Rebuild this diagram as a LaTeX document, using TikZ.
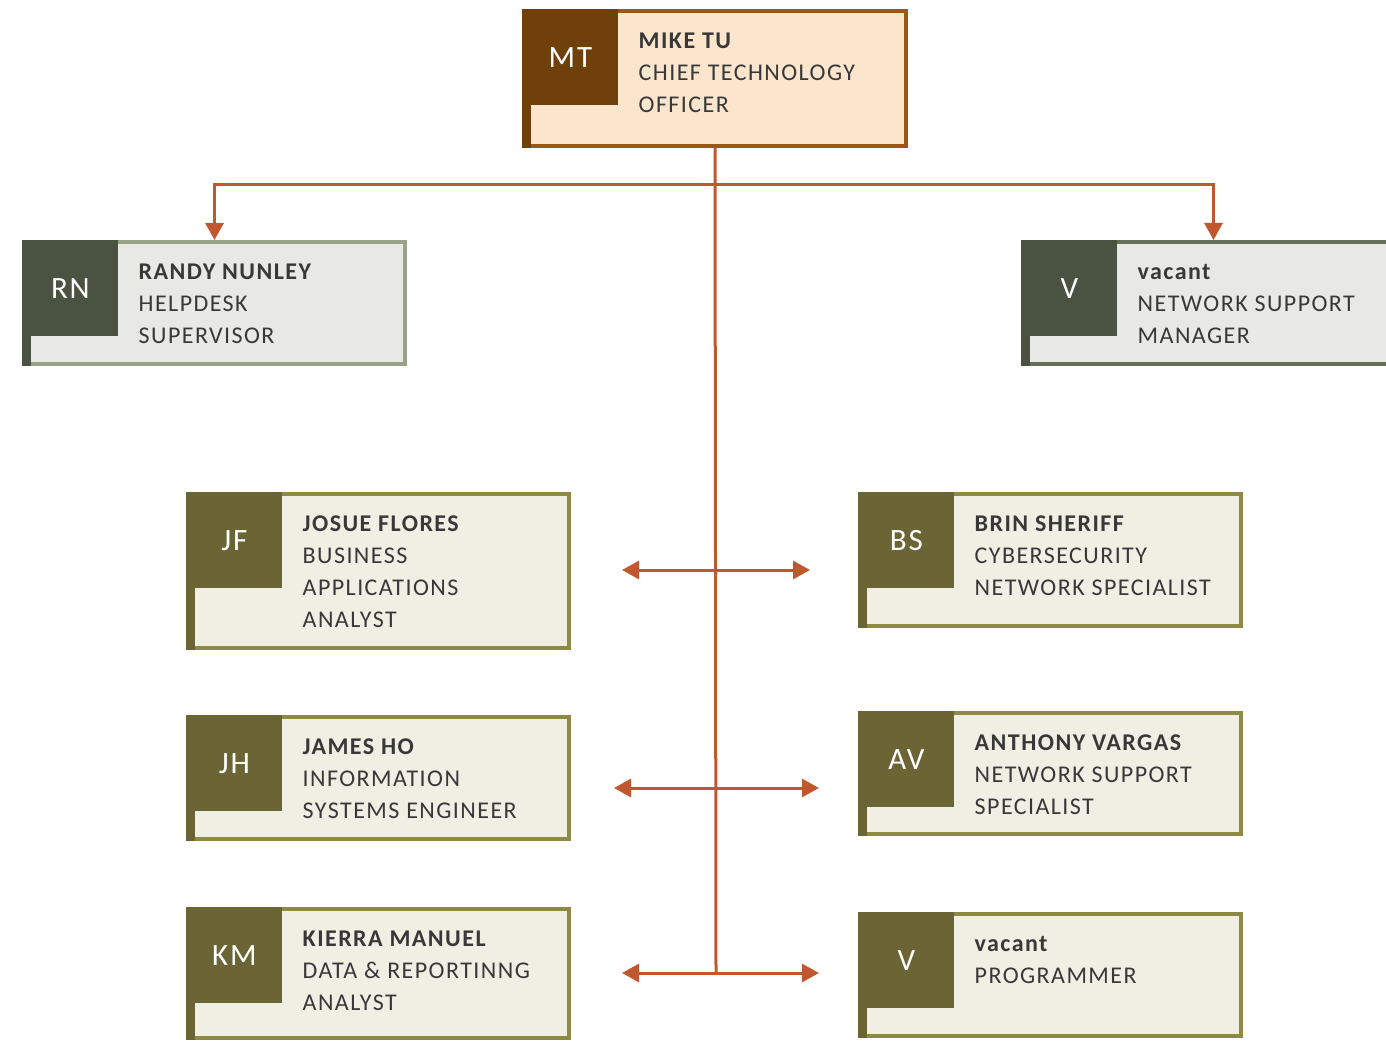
\documentclass[tikz,border=0pt]{standalone}
\usepackage{fontspec}
\setmainfont{Carlito}[LetterSpace=6]
\usetikzlibrary{positioning,arrows.meta}
\definecolor{mtline}{RGB}{155,88,18}
\definecolor{mttab}{RGB}{112,64,10}
\definecolor{mtfill}{RGB}{251,229,205}
\definecolor{sageline}{RGB}{151,162,137}
\definecolor{darkline}{RGB}{103,111,89}
\definecolor{greentab}{RGB}{74,82,65}
\definecolor{greyfill}{RGB}{232,233,228}
\definecolor{oliveline}{RGB}{143,137,70}
\definecolor{olivetab}{RGB}{107,101,54}
\definecolor{olivefill}{RGB}{240,239,228}
\definecolor{linkc}{RGB}{193,87,46}
\definecolor{txt}{RGB}{56,56,56}

\begin{document}
\begin{tikzpicture}[x=0.5pt,y=-0.5pt,
	card/.style={draw, line width=2pt, anchor=north west, inner sep=0pt},
	tab/.style={anchor=north west, minimum size=48pt, inner sep=0pt, text=white, font=\fontsize{15.5}{18}\selectfont},
	who/.style={anchor=base west, inner sep=0pt, text=txt, font=\fontsize{12}{16}\selectfont},
	brown card/.style={draw=mtline, fill=mtfill}, brown tab/.style={fill=mttab},
	sage card/.style={draw=sageline, fill=greyfill}, sage tab/.style={fill=greentab},
	dark card/.style={draw=darkline, fill=greyfill}, dark tab/.style={fill=greentab},
	olive card/.style={draw=oliveline, fill=olivefill}, olive tab/.style={fill=olivetab},
	link/.style={draw=linkc, line width=1.5pt},
	tip/.style={-{Triangle[length=8.5pt,width=9pt]}},
	tips/.style={{Triangle[length=8.5pt,width=9pt]}-{Triangle[length=8.5pt,width=9pt]}}]
	\clip (0,0) rectangle (1386,1043);
	% staff cards
	\foreach \nm/\x/\y/\bw/\bh/\sch/\ini/\txt in {
		mt/522/9/191/67.5/brown/MT/{\textbf{MIKE TU}\\CHIEF TECHNOLOGY\\OFFICER},
		rn/22/240/190.5/61/sage/RN/{\textbf{RANDY NUNLEY}\\HELPDESK\\SUPERVISOR},
		vm/1021/240/190.5/61/dark/V/{\textbf{vacant}\\NETWORK SUPPORT\\MANAGER},
		jf/186/492/190.5/77/olive/JF/{\textbf{JOSUE FLORES}\\BUSINESS\\APPLICATIONS\\ANALYST},
		bs/858/492/190.5/66/olive/BS/{\textbf{BRIN SHERIFF}\\CYBERSECURITY\\NETWORK SPECIALIST},
		jh/186/715/190.5/61/olive/JH/{\textbf{JAMES HO}\\INFORMATION\\SYSTEMS ENGINEER},
		av/858/711/190.5/60.5/olive/AV/{\textbf{ANTHONY VARGAS}\\NETWORK SUPPORT\\SPECIALIST},
		km/186/907/190.5/64.5/olive/KM/{\textbf{KIERRA MANUEL}\\DATA \& REPORTINNG\\ANALYST},
		vp/858/912/190.5/61/olive/V/{\textbf{vacant}\\PROGRAMMER}}{
		\node[card, \sch\space card, minimum width=\bw pt, minimum height=\bh pt] (\nm) at (\x,\y) {};
		\fill[\sch\space tab] (\nm.north west) rectangle ([xshift=4.5pt]\nm.south west);
		\node[tab, \sch\space tab] (\nm-i) at (\nm.north west) {\ini};
		\node[who] (\nm-t) at ([shift={(9.75pt,-19.75pt)}]\nm-i.north east)
			{\begin{tabular}[t]{@{}l@{}}\txt\end{tabular}};
	}
	% reporting lines
	\coordinate (hub) at (716,185);
	\coordinate (foot) at (716,973);
	\draw[link] (mt.south) -- (foot);
	\draw[link, tip] (hub) -| (rn.north);
	\draw[link, tip] (hub) -| (vm.north);
	\coordinate (l1) at (622,570); \coordinate (r1) at (810,570);
	\coordinate (l2) at (614,788); \coordinate (r2) at (819,788);
	\coordinate (l3) at (622,973); \coordinate (r3) at (819,973);
	\foreach \i in {1,2,3}
		\draw[link, tips] (l\i) -- (r\i);
\end{tikzpicture}
\end{document}
